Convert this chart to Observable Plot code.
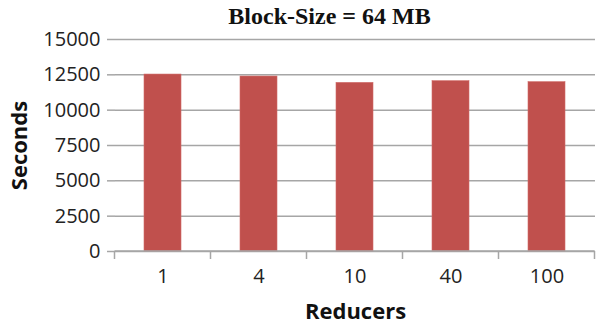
<!DOCTYPE html>
<html>
<head>
<meta charset="utf-8">
<script src="https://cdn.jsdelivr.net/npm/d3@7"></script>
<script src="https://cdn.jsdelivr.net/npm/@observablehq/plot@0.6"></script>
<style>
  html, body { margin: 0; padding: 0; background: #fff; }
  #chart svg { display: block; }
</style>
</head>
<body>
<div id="chart"></div>
<script>
const title = "Block-Size = 64 MB";
const xLabel = "Reducers";
const yLabel = "Seconds";
const reducers = ["1", "4", "10", "40", "100"];
const seconds = [12520, 12380, 11930, 12050, 11980];
const yTicks = [0, 2500, 5000, 7500, 10000, 12500, 15000];

const data = reducers.map((r, i) => ({reducer: r, seconds: seconds[i]}));
const grid = "#a6a6a6";
const sans = "'Open Sans', sans-serif";

// category boundary ticks on the x axis, derived from the band scale
function bandBoundaries(index, scales, values, dimensions) {
  const x = scales.x;
  const y = scales.y;
  const bw = x.bandwidth ? x.bandwidth() : 0;
  const starts = reducers.map(r => x(r));
  const step = starts.length > 1 ? starts[1] - starts[0] : bw;
  const gap = step - bw;
  const bounds = starts.map(s => s - gap / 2);
  bounds.push(starts[starts.length - 1] + bw + gap / 2);
  const y0 = y(0);
  const g = d3.create("svg:g");
  g.selectAll("line").data(bounds).join("line")
    .attr("x1", d => d).attr("x2", d => d)
    .attr("y1", y0).attr("y2", y0 + 8)
    .attr("stroke", grid).attr("stroke-width", 1.5);
  g.append("line")
    .attr("x1", bounds[0]).attr("x2", bounds[bounds.length - 1])
    .attr("y1", y0).attr("y2", y0)
    .attr("stroke", grid).attr("stroke-width", 1.5);
  return g.node();
}

const chart = Plot.plot({
  width: 596,
  height: 323,
  marginLeft: 115,
  marginRight: 1,
  marginTop: 39,
  marginBottom: 72,
  style: {fontFamily: sans, background: "#fff", overflow: "visible"},
  x: {domain: reducers, paddingInner: 0.61, paddingOuter: 0.305, label: null},
  y: {domain: [0, 15000], label: null},
  marks: [
    Plot.gridY(yTicks, {stroke: grid, strokeOpacity: 1, strokeWidth: 1.5}),
    Plot.axisY(yTicks, {
      tickSize: 8, tickPadding: 7, stroke: grid, strokeWidth: 1.5,
      fontSize: 20, fill: "#222", tickFormat: d => String(d), label: null
    }),
    Plot.ruleX([0], {x: () => 0, frameAnchor: "left", stroke: grid, strokeWidth: 1.5, y1: 0, y2: 15000}),
    Plot.barY(data, {x: "reducer", y: "seconds", fill: "#C0504D", stroke: "#d06a67", strokeWidth: 0.6}),
    bandBoundaries,
    Plot.axisX({tickSize: 0, tickPadding: 17, fontSize: 20, fill: "#222", label: null}),
    Plot.text([title], {frameAnchor: "top", lineAnchor: "middle", dy: -23, dx: -26, fontFamily: "'Liberation Serif', serif", fontWeight: "bold", fontSize: 24, fill: "#111"}),
    Plot.text([yLabel], {frameAnchor: "left", textAnchor: "middle", lineAnchor: "middle", dx: -96, rotate: -90, fontWeight: "bold", fontSize: 22, fill: "#111"}),
    Plot.text([xLabel], {frameAnchor: "bottom", lineAnchor: "middle", dy: 60, fontWeight: "bold", fontSize: 22, fill: "#111"})
  ]
});
document.getElementById("chart").append(chart);
</script>
</body>
</html>
